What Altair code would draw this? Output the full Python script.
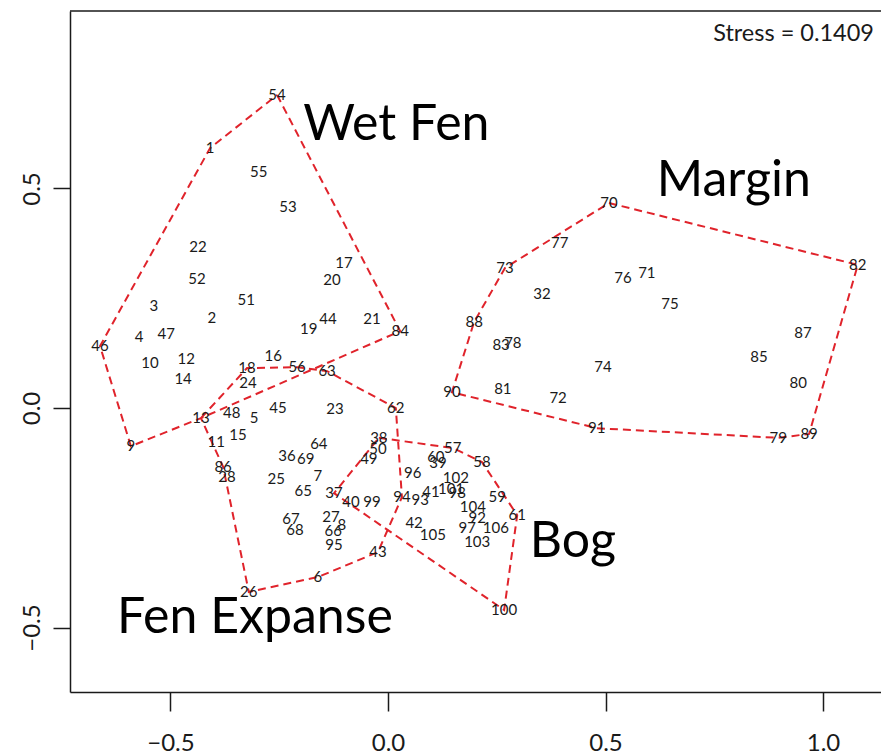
import altair as alt
import pandas as pd

# NMDS site scores (axis 1, axis 2) for each sampled site
site_ids = [
    1, 2, 3, 4, 5, 6, 7, 8, 9, 10,
    11, 12, 13, 14, 15, 16, 17, 18, 19, 20,
    21, 22, 23, 24, 25, 26, 27, 28, 32, 36,
    37, 38, 39, 40, 41, 42, 43, 44, 45, 46,
    47, 48, 49, 50, 51, 52, 53, 54, 55, 56,
    57, 58, 59, 60, 61, 62, 63, 64, 65, 66,
    67, 68, 69, 70, 71, 72, 73, 74, 75, 76,
    77, 78, 79, 80, 81, 82, 83, 84, 85, 86,
    87, 88, 89, 90, 91, 92, 93, 94, 95, 96,
    97, 98, 99, 100, 101, 102, 103, 104, 105, 106,
]
nmds1 = [
    -0.409, -0.405, -0.538, -0.572, -0.308, -0.161, -0.161, -0.106, -0.591, -0.547,
    -0.395, -0.464, -0.430, -0.471, -0.345, -0.264, -0.101, -0.324, -0.182, -0.129,
    -0.037, -0.437, -0.122, -0.322, -0.257, -0.320, -0.131, -0.370, 0.354, -0.232,
    -0.124, -0.021, 0.115, -0.085, 0.099, 0.060, -0.023, -0.138, -0.253, -0.662,
    -0.510, -0.359, -0.044, -0.023, -0.326, -0.439, -0.230, -0.255, -0.297, -0.209,
    0.149, 0.216, 0.251, 0.110, 0.297, 0.018, -0.140, -0.159, -0.195, -0.126,
    -0.223, -0.214, -0.189, 0.508, 0.595, 0.391, 0.269, 0.494, 0.648, 0.540,
    0.395, 0.287, 0.897, 0.943, 0.264, 1.080, 0.260, 0.028, 0.853, -0.379,
    0.954, 0.198, 0.968, 0.147, 0.480, 0.205, 0.074, 0.032, -0.124, 0.057,
    0.182, 0.159, -0.037, 0.267, 0.145, 0.156, 0.205, 0.195, 0.103, 0.248,
]
nmds2 = [
    0.592, 0.205, 0.232, 0.162, -0.023, -0.385, -0.155, -0.267, -0.087, 0.103,
    -0.077, 0.112, -0.023, 0.066, -0.062, 0.118, 0.330, 0.091, 0.180, 0.292,
    0.203, 0.367, -0.002, 0.057, -0.162, -0.419, -0.248, -0.157, 0.260, -0.109,
    -0.194, -0.068, -0.125, -0.214, -0.191, -0.262, -0.328, 0.203, 0.000, 0.141,
    0.169, -0.011, -0.116, -0.093, 0.246, 0.294, 0.458, 0.713, 0.538, 0.093,
    -0.091, -0.123, -0.203, -0.112, -0.244, 0.000, 0.084, -0.082, -0.189, -0.280,
    -0.253, -0.278, -0.116, 0.467, 0.308, 0.023, 0.319, 0.093, 0.237, 0.296,
    0.376, 0.148, -0.068, 0.057, 0.043, 0.326, 0.144, 0.175, 0.116, -0.134,
    0.171, 0.196, -0.059, 0.036, -0.046, -0.251, -0.210, -0.203, -0.312, -0.148,
    -0.273, -0.194, -0.214, -0.460, -0.185, -0.159, -0.305, -0.226, -0.289, -0.273,
]

# Convex hull vertices (site ids, in drawing order) for each vegetation group
hull_groups = ["Wet Fen", "Fen Expanse", "Bog", "Margin"]
hull_vertices = [
    [54, 84, 13, 9, 46, 1],
    [13, 18, 56, 63, 62, 94, 43, 6, 26, 86],
    [38, 57, 58, 61, 100, 37],
    [70, 82, 89, 79, 91, 90, 88, 73],
]

# Group name annotations (left edge, baseline) in ordination units
label_names = ["Wet Fen", "Margin", "Bog", "Fen Expanse"]
label_x = [-0.195, 0.618, 0.326, -0.623]
label_y = [0.610, 0.483, -0.339, -0.513]

stress_text = "Stress = 0.1409"

FONT = "Lato"
RED = "#e0232b"
INK = "#1a1a1a"
W, H = 811, 681

sites = pd.DataFrame({"site": site_ids, "x": nmds1, "y": nmds2})
lookup = dict(zip(site_ids, zip(nmds1, nmds2)))

rows = []
for g, verts in zip(hull_groups, hull_vertices):
    for i, s in enumerate(verts + verts[:1]):
        rows.append({"group": g, "step": i, "x": lookup[s][0], "y": lookup[s][1]})
hulls = pd.DataFrame(rows)

labels = pd.DataFrame({"name": label_names, "x": label_x, "y": label_y})

xs = alt.Scale(domain=[-0.7310, 1.1333], nice=False, zero=False)
ys = alt.Scale(domain=[-0.6469, 0.9043], nice=False, zero=False)

x_axis = alt.Axis(
    values=[-0.5, 0.0, 0.5, 1.0], format=".1f", title=None, grid=False,
    tickSize=19, tickWidth=1.5, tickColor=INK,
    domainColor=INK, domainWidth=1.5,
    labelFont=FONT, labelFontSize=24, labelColor=INK,
    labelBaseline="alphabetic", labelPadding=39, labelFlush=False,
)
y_axis = alt.Axis(
    values=[-0.5, 0.0, 0.5], format=".1f", title=None, grid=False,
    tickSize=17, tickWidth=1.5, tickColor=INK,
    domainColor=INK, domainWidth=1.5,
    labelFont=FONT, labelFontSize=24, labelColor=INK,
    labelAngle=-90, labelAlign="center", labelBaseline="alphabetic",
    labelPadding=14, labelFlush=False,
)

hull_lines = alt.Chart(hulls).mark_line(
    color=RED, strokeDash=[8, 5], strokeWidth=2
).encode(
    x=alt.X("x:Q", scale=xs, axis=x_axis),
    y=alt.Y("y:Q", scale=ys, axis=y_axis),
    detail="group:N",
    order="step:Q",
)

site_text = alt.Chart(sites).mark_text(
    font=FONT, fontSize=15, color=INK, align="center", baseline="middle"
).encode(
    x=alt.X("x:Q", scale=xs),
    y=alt.Y("y:Q", scale=ys),
    text="site:N",
)

group_text = alt.Chart(labels).mark_text(
    font=FONT, fontSize=50, color="#000000", align="left", baseline="alphabetic"
).encode(
    x=alt.X("x:Q", scale=xs),
    y=alt.Y("y:Q", scale=ys),
    text="name:N",
)

stress = alt.Chart(pd.DataFrame({"t": [stress_text]})).mark_text(
    font=FONT, fontSize=23.5, color=INK, align="right", baseline="alphabetic"
).encode(x=alt.value(804), y=alt.value(30), text="t:N")

top_border = alt.Chart(pd.DataFrame({"a": [0]})).mark_rule(
    color=INK, strokeWidth=1.5
).encode(x=alt.value(0), x2=alt.value(W), y=alt.value(0))

chart = alt.layer(hull_lines, site_text, group_text, stress, top_border).properties(
    width=W, height=H,
    autosize=alt.AutoSizeParams(type="none"),
    padding={"left": 70, "top": 11, "right": 0, "bottom": 63},
    background="white",
).configure_view(stroke=None)

chart.save("out.html", embed_options={"renderer": "svg", "actions": False})
